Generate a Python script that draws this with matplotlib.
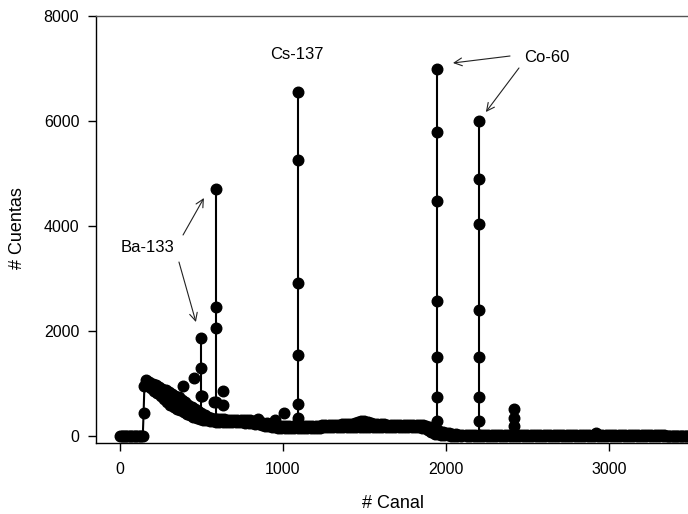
import numpy as np
import matplotlib
matplotlib.use("Agg")
import matplotlib.pyplot as plt

plt.rcParams['font.family'] = ['Liberation Sans', 'DejaVu Sans']

# ---- data ----
# flat region before threshold
zero_channels = np.arange(0, 141, 10)
zero_counts = [0] * len(zero_channels)

# rising edge
edge_channels = [145, 150]
edge_counts = [440, 960]

# continuum, upper edge of the noisy band (channels 160..2100, step 20)
upper_channels = np.arange(160, 2101, 20)
upper_counts = [
    1060, 1030, 1000, 970, 940, 905, 870, 835, 800, 765, 735, 690, 640,
    600, 555, 510, 470, 430, 395, 360, 340, 330, 322,
    318, 315, 312, 310, 308, 306, 304, 302, 300, 298,
    290, 275, 262, 250, 240, 230, 220, 210, 200, 195,
    192, 190, 190, 190, 190, 191, 192, 193, 195, 198,
    200, 203, 206, 209, 212, 215, 218, 220, 222, 225,
    230, 240, 260, 285, 295, 270, 240, 228, 225, 222,
    220, 219, 218, 217, 216, 215, 214, 213, 212, 211,
    210, 208, 205, 195, 170, 140, 115, 95, 80, 65,
    50, 40, 30, 25, 20,
]

# continuum, lower edge of the noisy band (channels 170..2090, step 20)
lower_channels = np.arange(170, 2091, 20)
lower_counts = [
    950, 910, 860, 810, 760, 700, 650, 600, 560, 520, 490, 455,
    425, 395, 365, 340, 320, 310, 300, 290, 282, 276,
    272, 270, 268, 266, 264, 262, 260, 258, 255, 250,
    240, 230, 220, 210, 200, 190, 180, 170, 162, 156,
    155, 154, 154, 154, 155, 155, 156, 157, 158, 160,
    161, 162, 163, 164, 165, 166, 167, 168, 169, 170,
    171, 172, 174, 176, 178, 180, 180, 178, 176, 175,
    174, 173, 172, 172, 171, 170, 170, 169, 168, 167,
    165, 163, 160, 155, 110, 70, 45, 30, 20, 15,
    10, 8, 5, 4, 3,
]

# tail, upper edge (channels 2120..3500, step 20)
tail_up_channels = np.arange(2120, 3501, 20)
tail_up_counts = [
    19, 18, 18, 17, 17, 16, 16, 16, 15, 15,
    15, 15, 14, 14, 14, 14, 14, 13, 13, 13,
    13, 13, 13, 13, 28, 13, 12, 12, 12, 12,
    12, 12, 12, 12, 12, 11, 11, 11, 11, 18,
    55, 25, 11, 11, 11, 11, 11, 10, 10, 10,
    10, 10, 10, 10, 10, 10, 10, 10, 10, 10,
    10, 10, 9, 9, 9, 9, 9, 9, 9, 9,
]

# tail, lower edge (channels 2130..3490, step 20)
tail_lo_channels = np.arange(2130, 3491, 20)
tail_lo_counts = [
    3, 2, 2, 2, 2, 2, 1, 2, 1, 1,
    2, 1, 1, 1, 2, 1, 1, 1, 1, 1,
    1, 1, 1, 1, 1, 1, 1, 1, 1, 0,
    1, 1, 0, 1, 1, 0, 1, 1, 0, 1,
    1, 0, 1, 0, 1, 0, 0, 1, 0, 0,
    1, 0, 0, 0, 1, 0, 0, 0, 0, 0,
    0, 0, 0, 0, 0, 0, 0, 0, 0,
]

# isolated points above the continuum
extra_channels = [388, 455, 503, 577, 632, 632, 848, 950, 1006]
extra_counts = [952, 1105, 762, 648, 857, 590, 324, 305, 438]

# photopeaks (points stacked at one channel)
peak_channels = [500, 589, 1092, 1945, 2203, 2417]
peak_counts = [
    [380, 762, 1295, 1867],
    [330, 650, 2060, 2460, 4700],
    [190, 343, 610, 1543, 2920, 5250, 6550],
    [60, 286, 743, 1505, 2570, 4470, 5800, 7000],
    [10, 286, 743, 1505, 2400, 4040, 4900, 6000],
    [10, 190, 343, 514],
]

# annotations
labels = ["Ba-133", "Cs-137", "Co-60"]
label_pos = [(172, 3600), (1086, 7276), (2620, 7219)]
arrows = [
    ((387, 3829), (515, 4533)),
    ((362, 3314), (466, 2171)),
    ((2393, 7238), (2043, 7105)),
    ((2448, 7010), (2245, 6171)),
]

x_ticks = [0, 1000, 2000, 3000]
y_ticks = [0, 2000, 4000, 6000, 8000]

# ---- figure ----
fig = plt.figure(figsize=(6.88, 5.14), dpi=100)
ax = fig.add_axes([96 / 688, 1 - 443 / 514, 1 - 96 / 688, (443 - 16) / 514])

ms = 7.6
style = dict(color='black', marker='o', markersize=ms, linewidth=1.5,
             markeredgecolor='black', markerfacecolor='black', clip_on=False)

# merge the band edges into one channel-ordered series
band_x = np.concatenate([upper_channels, lower_channels,
                         tail_up_channels, tail_lo_channels])
band_y = np.concatenate([upper_counts, lower_counts,
                         tail_up_counts, tail_lo_counts])
order = np.argsort(band_x, kind='stable')
main_x = np.concatenate([zero_channels, edge_channels, band_x[order]])
main_y = np.concatenate([zero_counts, edge_counts, band_y[order]])
ax.plot(main_x, main_y, **style)
ax.plot(extra_channels, extra_counts, linestyle='none', marker='o', markersize=ms,
        color='black')

for ch, vals in zip(peak_channels, peak_counts):
    ax.plot([ch] * len(vals), vals, **style)

for t, (tx, ty) in zip(labels, label_pos):
    ax.text(tx, ty, t, ha='center', va='center', fontsize=12)

for (tail, head) in arrows:
    ax.annotate('', xy=head, xytext=tail,
                arrowprops=dict(arrowstyle='->', color='#222222', lw=0.8,
                                mutation_scale=14, shrinkA=0, shrinkB=0))

ax.set_xlim(-147, 3485)
ax.set_ylim(-133, 8000)
ax.set_xticks(x_ticks)
ax.set_yticks(y_ticks)
ax.tick_params(axis='both', direction='out', length=6, width=1, labelsize=11.5,
               color='black')
ax.tick_params(axis='x', pad=8)
ax.tick_params(axis='y', pad=6)
ax.spines['right'].set_visible(False)
ax.spines['top'].set_color('#555555')
ax.spines['top'].set_linewidth(1.0)
ax.spines['left'].set_linewidth(1.0)
ax.spines['bottom'].set_linewidth(1.0)

fig.text(17 / 688, 1 - 228 / 514, '# Cuentas', rotation=90, ha='center', va='center',
         fontsize=13)
fig.text(393 / 688, 1 - 503 / 514, '# Canal', ha='center', va='center', fontsize=13)

fig.savefig('out.png', dpi=100)
